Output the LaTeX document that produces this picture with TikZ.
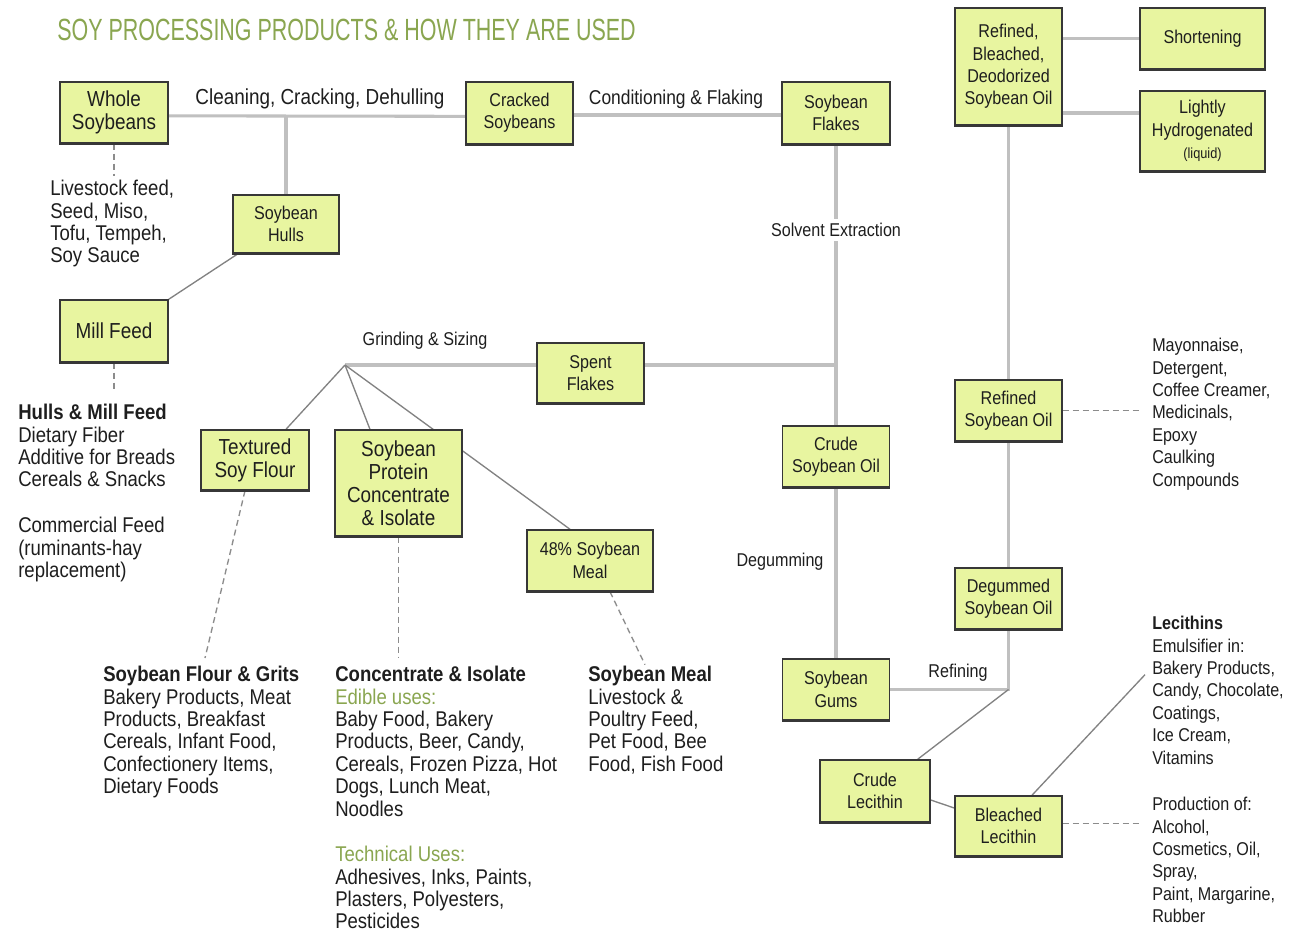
\documentclass[tikz,border=0pt]{standalone}
\usepackage{fontspec}
\setmainfont{Liberation Sans}[FakeStretch=0.87]
\newfontfamily\titlefont{Liberation Sans}[FakeStretch=0.70]
\usetikzlibrary{calc}
\definecolor{boxfill}{RGB}{232,245,160}
\definecolor{boxdraw}{RGB}{55,55,55}
\definecolor{connc}{RGB}{192,192,192}
\definecolor{thinc}{RGB}{130,130,130}
\definecolor{dashc}{RGB}{140,140,140}
\definecolor{greenc}{RGB}{138,166,80}
\definecolor{textc}{RGB}{30,30,30}
\newcommand\fbig{\fontsize{16.3}{17.2}\selectfont}
\newcommand\fmid{\fontsize{15}{16.8}\selectfont}
\newcommand\fsmall{\fontsize{13.9}{16.8}\selectfont}
\newcommand\fbody{\fontsize{16}{16.8}\selectfont}
\pgfdeclarelayer{bg}
\pgfsetlayers{bg,main}
\tikzset{
  box/.style={draw=boxdraw, fill=boxfill, line width=1.1pt, inner sep=0pt, align=center, text=textc, font=\fsmall},
  lab/.style={inner sep=0pt, text=textc, font=\fsmall},
  txt/.style={anchor=north west, align=left, inner sep=0pt, text=textc, font=\fbody},
  conn/.style={draw=connc, line width=2.3pt},
  thinline/.style={draw=thinc, line width=1pt},
  dsh/.style={draw=dashc, line width=1pt, dash pattern=on 4.5pt off 3pt}
}
\begin{document}
\begin{tikzpicture}[x=0.75pt,y=-0.75pt]
\useasboundingbox (0,0) rectangle (1293,932);

% title
\node[anchor=west, inner sep=0pt, text=greenc, font=\titlefont\fontsize{23}{23}\selectfont] (title) at (57,30) {SOY PROCESSING PRODUCTS \& HOW THEY ARE USED};

% boxes
\node[box,font=\fbig,minimum width=81pt,minimum height=45.75pt] (whole) at (114,112.5) {Whole\\Soybeans};
\node[box,minimum width=80.25pt,minimum height=46.5pt] (cracked) at (519.5,113) {Cracked\\Soybeans};
\node[box,minimum width=81pt,minimum height=46.5pt] (flakes) at (836,113) {Soybean\\Flakes};
\node[box,minimum width=80.25pt,minimum height=87.75pt] (rbd) at (1008.5,66.5) {Refined,\\Bleached,\\Deodorized\\Soybean Oil};
\node[box,minimum width=93.75pt,minimum height=45.75pt] (short) at (1202.5,38.5) {Shortening};
\node[box,minimum width=93.75pt,minimum height=60pt] (light) at (1202.5,131) {Lightly\\Hydrogenated\\{\fontsize{11}{14}\selectfont(liquid)}};
\node[box,minimum width=79.5pt,minimum height=43.5pt] (hulls) at (286,224) {Soybean\\Hulls};
\node[box,font=\fbig,minimum width=81pt,minimum height=46.5pt] (mill) at (114,331) {Mill Feed};
\node[box,minimum width=80.25pt,minimum height=45pt] (spent) at (590.5,373) {Spent\\Flakes};
\node[box,font=\fbig,minimum width=81pt,minimum height=45pt] (tsf) at (255,460) {Textured\\Soy Flour};
\node[box,font=\fbig,minimum width=95.25pt,minimum height=79.5pt] (spc) at (398.5,483) {Soybean\\Protein\\Concentrate\\\& Isolate};
\node[box,minimum width=94.5pt,minimum height=45.75pt] (meal) at (590,560.5) {48\% Soybean\\Meal};
\node[box,minimum width=80.25pt,minimum height=45.75pt] (cso) at (836,456.5) {Crude\\Soybean Oil};
\node[box,minimum width=80.25pt,minimum height=45.75pt] (rso) at (1008.5,410.5) {Refined\\Soybean Oil};
\node[box,minimum width=80.25pt,minimum height=45.75pt] (dso) at (1008.5,598.5) {Degummed\\Soybean Oil};
\node[box,minimum width=80.25pt,minimum height=45.75pt] (gums) at (836,689.5) {Soybean\\Gums};
\node[box,minimum width=82.5pt,minimum height=46.5pt] (clec) at (875,791) {Crude\\Lecithin};
\node[box,minimum width=80.25pt,minimum height=45pt] (blec) at (1008.5,826) {Bleached\\Lecithin};

\foreach \n in {whole,cracked,flakes,rbd,short,light,hulls,mill,spent,tsf,spc,meal,cso,rso,dso,gums,clec,blec}
  \draw[boxdraw,line width=2.2pt] (\n.south west) -- (\n.south east);

% process labels
\node[lab,font=\fbig] (l1) at (320,99) {Cleaning, Cracking, Dehulling};
\node[lab,font=\fmid] (l2) at (676,99) {Conditioning \& Flaking};
\node[lab,fill=white,inner sep=3pt] (l3) at (836,230) {Solvent Extraction};
\node[lab] (l4) at (425,341) {Grinding \& Sizing};
\node[lab] (l5) at (780,562) {Degumming};
\node[lab] (l6) at (958,673) {Refining};

% text blocks
\node[txt] (livestock) at (50,180) {Livestock feed,\\Seed, Miso,\\Tofu, Tempeh,\\Soy Sauce};
\node[txt] (hullsmill) at (18,404) {\textbf{Hulls \& Mill Feed}\\Dietary Fiber\\Additive for Breads\\Cereals \& Snacks};
\node[txt] (commfeed) at (18,517) {Commercial Feed\\(ruminants-hay\\replacement)};
\node[txt] (flour) at (103,666) {\textbf{Soybean Flour \& Grits}\\Bakery Products, Meat\\Products, Breakfast\\Cereals, Infant Food,\\Confectionery Items,\\Dietary Foods};
\node[txt] (conc) at (335,666) {\textbf{Concentrate \& Isolate}\\\textcolor{greenc}{Edible uses:}\\Baby Food, Bakery\\Products, Beer, Candy,\\Cereals, Frozen Pizza, Hot\\Dogs, Lunch Meat,\\Noodles};
\node[txt] (tech) at (335,846) {\textcolor{greenc}{Technical Uses:}\\Adhesives, Inks, Paints,\\Plasters, Polyesters,\\Pesticides};
\node[txt] (mealtxt) at (588,666) {\textbf{Soybean Meal}\\Livestock \&\\Poultry Feed,\\Pet Food, Bee\\Food, Fish Food};
\node[txt,font=\fsmall] (mayo) at (1152,338) {Mayonnaise,\\Detergent,\\Coffee Creamer,\\Medicinals,\\Epoxy\\Caulking\\Compounds};
\node[txt,font=\fsmall] (lec) at (1152,616) {\textbf{Lecithins}\\Emulsifier in:\\Bakery Products,\\Candy, Chocolate,\\Coatings,\\Ice Cream,\\Vitamins};
\node[txt,font=\fsmall] (prod) at (1152,797) {Production of:\\Alcohol,\\Cosmetics, Oil,\\Spray,\\Paint, Margarine,\\Rubber};

\coordinate (jsp) at (flakes.south |- 0,365);
\coordinate (hub) at (345,365);
\coordinate (lw) at ([yshift=13.5pt]light.west);
\coordinate (jref) at (gums.east -| dso.south);

\begin{pgfonlayer}{bg}
\fill[white] (0,0) rectangle (1293,932);
\draw[conn] ([yshift=-2.5pt]whole.east) -- ([yshift=-2.5pt]cracked.west);
\draw[conn] (hulls.north) -- ([yshift=-2.5pt]hulls.north |- whole.east);
\draw[conn] ([yshift=-1.5pt]cracked.east) -- ([yshift=-1.5pt]flakes.west);
\draw[conn] (flakes.south) -- (l3.north);
\draw[conn] (l3.south) -- (cso.north);
\draw[conn] (jsp) -- (jsp -| spent.east);
\draw[conn] (spent.west |- hub) -- (hub);
\draw[thinline] (hub) -- ([xshift=23.25pt]tsf.north);
\draw[thinline] (hub) -- ([xshift=-21.4pt]spc.north);
\draw[thinline] (hub) -- ([xshift=-15pt]meal.north);
\draw[thinline] ([xshift=-36pt]hulls.south) -- (mill.north east);
\draw[conn] (rbd.east |- short.west) -- (short.west);
\draw[conn] (lw -| rbd.east) -- (lw);
\draw[conn] (rbd.south) -- (rso.north);
\draw[conn] (rso.south) -- (dso.north);
\draw[conn] (gums.east) -- (jref) -- (dso.south);
\draw[thinline] (jref) -- ([xshift=32pt]clec.north);
\draw[thinline] ([yshift=-6.75pt]clec.east) -- ([yshift=13.5pt]blec.west);
\draw[conn] (cso.south) -- (gums.north);
\draw[dsh,shorten >=3pt] (whole.south) -- (whole.south |- livestock.north);
\draw[dsh,shorten >=9pt] (mill.south) -- (mill.south |- hullsmill.north);
\draw[dsh] ([xshift=-7.5pt]tsf.south) -- ([xshift=76.5pt,yshift=6pt]flour.north west);
\draw[dsh,shorten >=6pt] (spc.south) -- (spc.south |- conc.north);
\draw[dsh] ([xshift=15pt]meal.south) -- ([xshift=42.75pt,yshift=1pt]mealtxt.north west);
\draw[dsh,shorten >=7.5pt] (rso.east) -- (rso.east -| mayo.west);
\draw[dsh,shorten >=9pt] ([yshift=2pt]blec.east) -- ([yshift=2pt]blec.east -| prod.west);
\draw[thinline] ([xshift=17.6pt]blec.north) -- ([xshift=-5.25pt,yshift=-44pt]lec.north west);
\end{pgfonlayer}
\end{tikzpicture}
\end{document}
